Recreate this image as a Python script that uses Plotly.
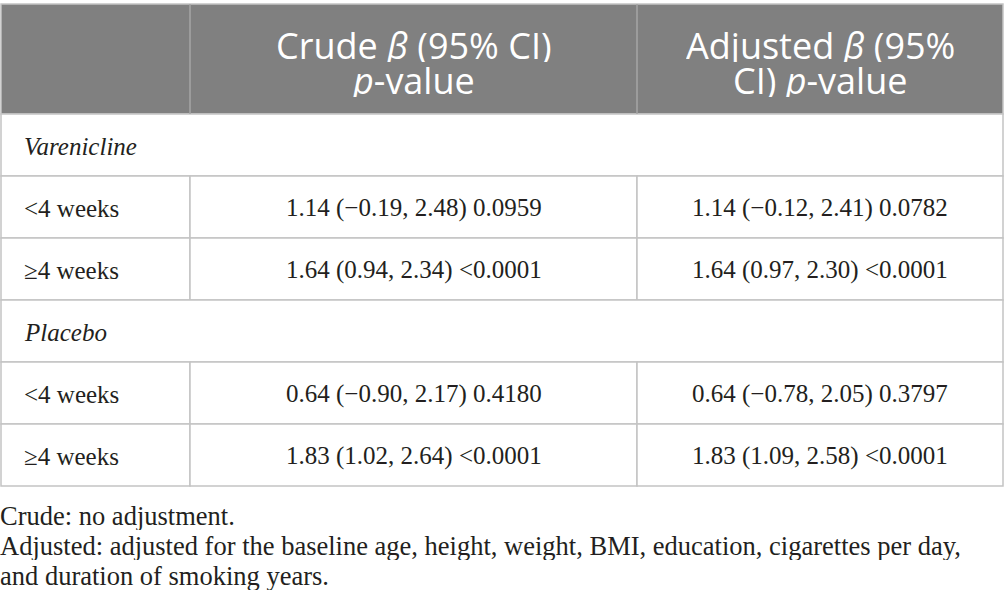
import plotly.graph_objects as go

# table content
header_crude = ["Crude <i>β</i> (95% CI)", "<i>p</i>-value"]
header_adjusted = ["Adjusted <i>β</i> (95%", "CI) <i>p</i>-value"]
groups = ["Varenicline", "Placebo"]
durations = ["<4 weeks", "≥4 weeks"]
crude = [
    ["1.14 (−0.19, 2.48) 0.0959", "1.64 (0.94, 2.34) <0.0001"],
    ["0.64 (−0.90, 2.17) 0.4180", "1.83 (1.02, 2.64) <0.0001"],
]
adjusted = [
    ["1.14 (−0.12, 2.41) 0.0782", "1.64 (0.97, 2.30) <0.0001"],
    ["0.64 (−0.78, 2.05) 0.3797", "1.83 (1.09, 2.58) <0.0001"],
]
footnotes = [
    "Crude: no adjustment.",
    "Adjusted: adjusted for the baseline age, height, weight, BMI, education, cigarettes per day,",
    "and duration of smoking years.",
]

# geometry (pixels, the axes are set up 1:1 with the page)
W, H = 1005, 613
col_edges = [1, 190, 637, 1003]
table_top = 4
header_h = 110
row_h = 62
foot_top = 516
foot_gap = 30

HEADER_FILL = "#808080"
GRID = "#c4c4c4"
TEXT = "#231f20"
SERIF = "Liberation Serif"
SANS = "Open Sans"

shapes = []
annotations = []

# header block
header_bottom = table_top + header_h
shapes.append(dict(type="rect", x0=col_edges[0], x1=col_edges[-1], y0=table_top, y1=header_bottom,
                   fillcolor=HEADER_FILL, line=dict(color=GRID, width=1.5), layer="below"))
for xe in col_edges[1:-1]:
    shapes.append(dict(type="line", x0=xe, x1=xe, y0=table_top, y1=header_bottom,
                       line=dict(color="#a6a6a6", width=1.5)))

# two header lines drawn separately to keep the tight line spacing
for col, lines in ((1, header_crude), (2, header_adjusted)):
    xc = (col_edges[col] + col_edges[col + 1]) / 2
    for i, txt in enumerate(lines):
        annotations.append(dict(x=xc, y=table_top + 41 + i * 35, text=txt, showarrow=False,
                                xanchor="center", yanchor="middle", height=34, borderpad=0,
                                font=dict(family=SANS, size=36, color="white")))

# body rows
y = header_bottom
for g, group in enumerate(groups):
    # group row spans the full width
    shapes.append(dict(type="rect", x0=col_edges[0], x1=col_edges[-1], y0=y, y1=y + row_h,
                       fillcolor="white", line=dict(color=GRID, width=1.5), layer="below"))
    annotations.append(dict(x=col_edges[0] + 21, y=y + row_h / 2 + 1, text=f"<i>{group}</i>",
                            showarrow=False, xanchor="left", yanchor="middle",
                            font=dict(family=SERIF, size=25, color=TEXT)))
    y += row_h
    for r, dur in enumerate(durations):
        cells = [dur, crude[g][r], adjusted[g][r]]
        for c, txt in enumerate(cells):
            shapes.append(dict(type="rect", x0=col_edges[c], x1=col_edges[c + 1], y0=y, y1=y + row_h,
                               fillcolor="white", line=dict(color=GRID, width=1.5), layer="below"))
            if c == 0:
                ax, anchor = col_edges[0] + 21, "left"
            else:
                ax, anchor = (col_edges[c] + col_edges[c + 1]) / 2, "center"
            annotations.append(dict(x=ax, y=y + row_h / 2 + 1, text=txt, showarrow=False,
                                    xanchor=anchor, yanchor="middle",
                                    font=dict(family=SERIF, size=25, color=TEXT)))
        y += row_h

# footnotes
for i, note in enumerate(footnotes):
    annotations.append(dict(x=0, y=foot_top + i * foot_gap, text=note, showarrow=False,
                            xanchor="left", yanchor="middle", xshift=-2, height=28,
                            font=dict(family=SERIF, size=26.5, color=TEXT)))

fig = go.Figure()
fig.update_layout(
    width=W, height=H,
    margin=dict(l=0, r=0, t=0, b=0),
    paper_bgcolor="white", plot_bgcolor="white",
    xaxis=dict(range=[0, W], visible=False, fixedrange=True),
    yaxis=dict(range=[H, 0], visible=False, fixedrange=True),
    shapes=shapes,
    annotations=annotations,
    showlegend=False,
)

# the page's default body margin would push the table off by 8px
fig.write_html("out.html", config={"displayModeBar": False},
               post_script="document.body.style.margin='0';document.body.style.overflow='hidden';")
